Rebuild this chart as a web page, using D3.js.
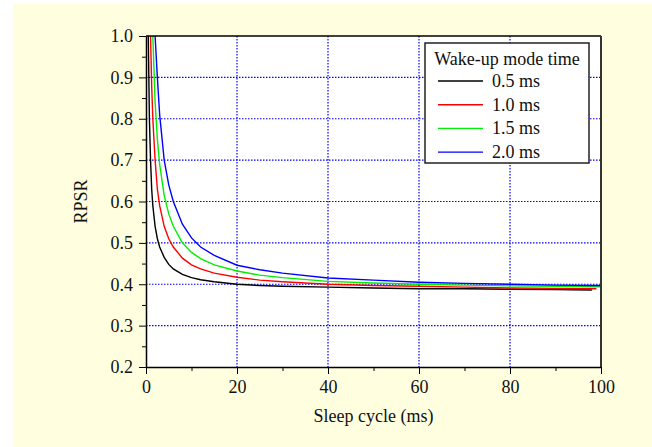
<!DOCTYPE html>
<html>
<head>
<meta charset="utf-8">
<script src="https://cdn.jsdelivr.net/npm/d3@7/dist/d3.min.js"></script>
<style>
  body { margin: 0; background: #fff; }
  svg text { font-family: 'Liberation Serif', 'Times New Roman', Times, serif !important; fill: #111; }
</style>
</head>
<body>
<div id="chart"></div>
<script>
// sleep cycle (ms) sample points shared by all curves
const sleepCycle = [0.5, 0.75, 1, 1.25, 1.5, 2, 2.5, 3, 4, 5, 6, 8, 10, 12, 15, 20, 25, 30, 40, 50, 60, 70, 80, 90, 98, 99, 100]

// RPSR, one array per wake-up mode time
const rpsr05 = [1.0, 0.80, 0.70, 0.63, 0.59, 0.54, 0.51, 0.49, 0.465, 0.448, 0.437, 0.424, 0.416, 0.411, 0.406, 0.400, 0.397, 0.395, 0.393, 0.391, 0.389, 0.389, 0.388, 0.387, 0.386, null, null]
const rpsr10 = [null, null, 1.0, 0.88, 0.80, 0.70, 0.63, 0.59, 0.54, 0.51, 0.49, 0.463, 0.447, 0.437, 0.427, 0.417, 0.410, 0.406, 0.400, 0.397, 0.395, 0.393, 0.391, 0.390, 0.389, 0.389, null]
const rpsr15 = [null, null, null, null, 1.0, 0.84, 0.75, 0.69, 0.615, 0.57, 0.54, 0.50, 0.477, 0.462, 0.447, 0.432, 0.422, 0.416, 0.407, 0.403, 0.400, 0.398, 0.396, 0.395, 0.394, 0.394, 0.394]
const rpsr20 = [null, null, null, null, null, 1.0, 0.90, 0.81, 0.70, 0.64, 0.60, 0.545, 0.512, 0.49, 0.47, 0.446, 0.435, 0.427, 0.415, 0.410, 0.405, 0.402, 0.400, 0.398, 0.397, 0.397, 0.397]

const seriesNames = ['0.5 ms', '1.0 ms', '1.5 ms', '2.0 ms']
const seriesColors = ['#000000', '#ff0000', '#00ee00', '#0000ff']
const seriesValues = [rpsr05, rpsr10, rpsr15, rpsr20]

const xTicks = [0, 20, 40, 60, 80, 100]
const yTicks = [0.2, 0.3, 0.4, 0.5, 0.6, 0.7, 0.8, 0.9, 1.0]

const width = 652
const height = 447
const plotLeft = 146, plotRight = 601, plotTop = 36, plotBottom = 367
const serif = "'Liberation Serif', 'Times New Roman', Times, serif"

const svg = d3.select('#chart').append('svg')
  .attr('width', width)
  .attr('height', height)
  .attr('font-family', serif)

svg.append('rect')
  .attr('x', 13).attr('y', 4)
  .attr('width', width - 13).attr('height', height - 4)
  .attr('fill', '#ffffe0')

const xScale = d3.scaleLinear().domain([0, 100]).range([plotLeft, plotRight])
const yScale = d3.scaleLinear().domain([0.2, 1.0]).range([plotBottom, plotTop])

svg.append('rect')
  .attr('x', plotLeft).attr('y', plotTop)
  .attr('width', plotRight - plotLeft).attr('height', plotBottom - plotTop)
  .attr('fill', '#fff')

svg.append('defs').append('clipPath').attr('id', 'plot')
  .append('rect')
    .attr('x', plotLeft).attr('y', plotTop)
    .attr('width', plotRight - plotLeft).attr('height', plotBottom - plotTop)

// dotted grid
const grid = svg.append('g').attr('class', 'grid')
grid.selectAll('.gy')
  .data(yTicks.filter(d => d > 0.25 && d < 0.95)).enter()
  .append('line')
    .attr('x1', plotLeft).attr('x2', plotRight)
    .attr('y1', d => yScale(d)).attr('y2', d => yScale(d))
    .attr('stroke', '#0000ff').attr('stroke-width', 1.2)
    .attr('stroke-dasharray', '1.5,1.5')
grid.selectAll('.gx')
  .data(xTicks.filter(d => d > 0 && d < 100)).enter()
  .append('line')
    .attr('y1', plotTop).attr('y2', plotBottom)
    .attr('x1', d => xScale(d)).attr('x2', d => xScale(d))
    .attr('stroke', '#0000ff').attr('stroke-width', 1.2)
    .attr('stroke-dasharray', '1.5,1.5')

// curves
const line = d3.line()
  .defined(d => d[1] != null)
  .x(d => xScale(d[0]))
  .y(d => yScale(d[1]))

svg.append('g').attr('clip-path', 'url(#plot)')
  .selectAll('path')
  .data(seriesValues).enter()
  .append('path')
    .attr('d', vals => line(sleepCycle.map((x, i) => [x, vals[i]])))
    .attr('fill', 'none')
    .attr('stroke', (d, i) => seriesColors[i])
    .attr('stroke-width', 1.4)

// frame
svg.append('line')
  .attr('x1', plotLeft).attr('x2', plotRight).attr('y1', plotTop).attr('y2', plotTop)
  .attr('stroke', '#000').attr('stroke-width', 1.5)
svg.append('line')
  .attr('x1', plotRight).attr('x2', plotRight).attr('y1', plotTop).attr('y2', plotBottom)
  .attr('stroke', '#333').attr('stroke-width', 2)

// axes
const xAxis = d3.axisBottom(xScale).tickValues(xTicks).tickFormat(d3.format('d'))
  .tickSize(7).tickSizeOuter(0).tickPadding(6)
svg.append('g')
  .attr('transform', `translate(0, ${plotBottom})`)
  .call(xAxis)
  .call(g => g.attr('font-family', serif).attr('font-size', 18))
svg.append('g')
  .attr('transform', `translate(0, ${plotBottom})`)
  .call(d3.axisBottom(xScale).tickValues(d3.range(10, 100, 20)).tickSize(4).tickFormat(''))
  .call(g => g.select('.domain').remove())

const yAxis = d3.axisLeft(yScale).tickValues(yTicks).tickFormat(d3.format('.1f'))
  .tickSize(7).tickSizeOuter(0).tickPadding(6)
svg.append('g')
  .attr('transform', `translate(${plotLeft}, 0)`)
  .call(yAxis)
  .call(g => g.attr('font-family', serif).attr('font-size', 18))
svg.append('g')
  .attr('transform', `translate(${plotLeft}, 0)`)
  .call(d3.axisLeft(yScale).tickValues(d3.range(0.25, 1.0, 0.1)).tickSize(4).tickFormat(''))
  .call(g => g.select('.domain').remove())

svg.selectAll('.domain').attr('stroke-width', 1.5)

// axis titles
svg.append('text')
  .text('Sleep cycle (ms)')
  .attr('x', (plotLeft + plotRight) / 2).attr('y', 422)
  .attr('text-anchor', 'middle')
  .attr('font-size', 18)
svg.append('text')
  .text('RPSR')
  .attr('transform', `translate(87, ${(plotTop + plotBottom) / 2}) rotate(-90)`)
  .attr('text-anchor', 'middle')
  .attr('font-size', 18)

// legend
const legend = svg.append('g').attr('id', 'legend')
legend.append('rect')
  .attr('x', 425).attr('y', 43)
  .attr('width', 164).attr('height', 120)
  .attr('fill', '#fff').attr('stroke', '#222').attr('stroke-width', 1.5)
legend.append('text')
  .text('Wake-up mode time')
  .attr('x', 507).attr('y', 65)
  .attr('text-anchor', 'middle')
  .attr('font-size', 18)

const rows = legend.selectAll('.row')
  .data(seriesNames).enter()
  .append('g')
    .attr('transform', (d, i) => `translate(0, ${81 + i * 23.7})`)
rows.append('line')
  .attr('x1', 438).attr('x2', 483)
  .attr('stroke', (d, i) => seriesColors[i])
  .attr('stroke-width', 1.4)
rows.append('text')
  .text(d => d)
  .attr('x', 492).attr('y', 6)
  .attr('font-size', 18)
</script>
</body>
</html>
